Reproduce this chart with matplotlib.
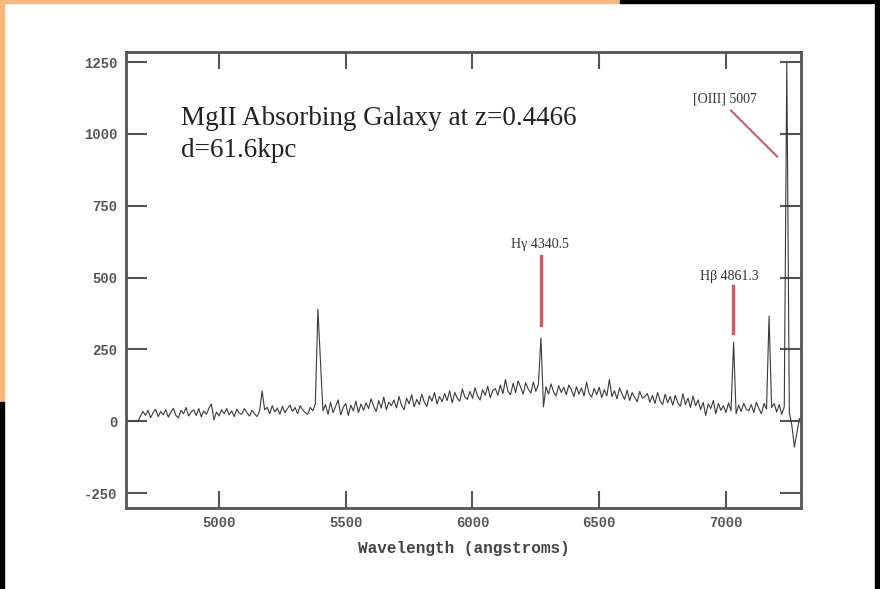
import numpy as np
import matplotlib
matplotlib.use("Agg")
import matplotlib.pyplot as plt
from matplotlib.patches import Rectangle

# spectrum sampled every 10 A starting at 4640 A
wave_start = 4640.0
wave_step = 10.0
flux = [
    0, 0, 0, 0, 0,
    18, 34, 20, 38, 12, 30, 42, 16, 34, 22,
    40, 14, 32, 45, 20, 12, 38, 26, 48, 18,
    32, 40, 20, 44, 15, 36, 24, 45, 60, 5,
    32, 18, 40, 26, 44, 22, 36, 16, 42, 28,
    24, 44, 30, 18, 38, 26, 16, 36, 105, 40,
    48, 26, 54, 32, 46, 24, 52, 30, 44, 56,
    34, 48, 26, 54, 40, 30, 24, 48, 36, 60,
    390, 210, 36, 58, 24, 66, 30, 52, 74, 22,
    48, 62, 20, 56, 36, 70, 30, 60, 38, 64,
    44, 78, 52, 34, 72, 46, 84, 40, 66, 54,
    74, 46, 86, 56, 40, 80, 60, 92, 50, 76,
    58, 94, 66, 52, 88, 70, 100, 60, 86, 68,
    96, 72, 106, 64, 100, 80, 70, 112, 84, 76,
    104, 80, 116, 88, 74, 110, 90, 122, 82, 106,
    114, 90, 126, 96, 145, 104, 92, 132, 100, 140,
    118, 94, 134, 112, 98, 136, 104, 128, 290, 50,
    120, 94, 130, 102, 88, 124, 100, 118, 92, 126,
    110, 86, 120, 94, 116, 88, 136, 96, 84, 114,
    92, 118, 82, 110, 88, 145, 86, 106, 78, 116,
    94, 76, 108, 72, 100, 82, 68, 104, 80, 86,
    96, 66, 90, 62, 100, 72, 58, 94, 64, 86,
    56, 90, 64, 52, 96, 58, 80, 48, 88, 54,
    74, 40, 66, 20, 60, 44, 72, 26, 62, 38,
    54, 30, 64, 36, 275, 26, 56, 34, 62, 42,
    36, 58, 30, 66, 44, 26, 62, 42, 366, 48,
    62, 32, 58, 24, 50, 1250, 30, -15, -90, -40,
    10,
]
wave = wave_start + wave_step * np.arange(len(flux))

# line markers (x, y0, y1) and labels
hg_mark = (6272, 335, 575)
hb_mark = (7026, 307, 471)
oiii_mark = ([7020, 7202], [1081, 921])
labels = ["H\u03b3 4340.5", "H\u03b2 4861.3", "[OIII] 5007"]
label_pos = [(6267, 614), (7012, 502), (6997, 1123)]

xticks = [5000, 5500, 6000, 6500, 7000]
yticks = [-250, 0, 250, 500, 750, 1000, 1250]

fig = plt.figure(figsize=(8.8, 5.89), dpi=100)
fig.patch.set_facecolor("white")
ax = fig.add_axes([126/880, 81/589, 675/880, 456/589])

ax.plot(wave, flux, color="#3a3a3a", lw=0.8)

red = "#b5393f"
ax.plot([hg_mark[0]]*2, hg_mark[1:], color=red, lw=2.4, alpha=0.8)
ax.plot([hb_mark[0]]*2, hb_mark[1:], color=red, lw=2.4, alpha=0.8)
ax.plot(oiii_mark[0], oiii_mark[1], color=red, lw=1.5, alpha=0.8)
for s, (lx, ly) in zip(labels, label_pos):
    ax.text(lx, ly, s, ha="center", va="center", fontsize=10,
            family="Liberation Serif", color="#333333")

ax.text(0.0815, 0.855, "MgII Absorbing Galaxy at z=0.4466", transform=ax.transAxes,
        ha="left", va="center", fontsize=19.5, family="Liberation Serif", color="#222222")
ax.text(0.0815, 0.783, "d=61.6kpc", transform=ax.transAxes,
        ha="left", va="center", fontsize=19.5, family="Liberation Serif", color="#222222")

ax.set_xlim(4633, 7296)
ax.set_ylim(-302, 1285)
ax.set_xticks(xticks)
ax.set_yticks(yticks)
ax.tick_params(direction="in", top=True, right=True, color="#555555", width=1.5,
               labelsize=10, labelcolor="#555555", pad=6)
ax.tick_params(axis="x", length=12)
ax.tick_params(axis="y", length=15)
for lab in ax.get_xticklabels() + ax.get_yticklabels():
    lab.set_family("Liberation Mono")
    lab.set_fontweight("bold")
ax.set_yticklabels(["-250", "0", "250", "500", "750", "1000", "1250"])
for sp in ax.spines.values():
    sp.set_color("#555555")
    sp.set_linewidth(2)
ax.set_xlabel("Wavelength (angstroms)", family="Liberation Mono", fontweight="bold",
              fontsize=11.5, color="#444444", labelpad=8)

# slide frame edges seen in the photo
fig.patches.append(Rectangle((0, 1-3/589), 620/880, 3/589, transform=fig.transFigure, color="#f2b880"))
fig.patches.append(Rectangle((620/880, 1-3/589), 260/880, 3/589, transform=fig.transFigure, color="black"))
fig.patches.append(Rectangle((0, 187/589), 4/880, 402/589, transform=fig.transFigure, color="#f2b880"))
fig.patches.append(Rectangle((0, 0), 4/880, 187/589, transform=fig.transFigure, color="black"))
fig.patches.append(Rectangle((875/880, 0), 5/880, 1, transform=fig.transFigure, color="black"))

fig.savefig("out.png", dpi=100)
